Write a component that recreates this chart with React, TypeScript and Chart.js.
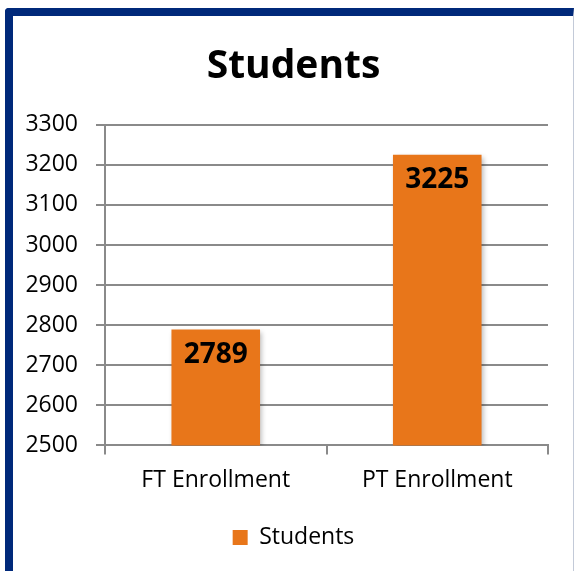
import React, { useEffect, useRef } from "react";
import { Chart, registerables } from "chart.js";

Chart.register(...registerables);

const categories = ["FT Enrollment", "PT Enrollment"];
const studentValues = [2789, 3225];
const seriesName = "Students";
const chartTitle = "Students";
const yMin = 2500;
const yMax = 3300;
const yStep = 100;

const FONT = "'Open Sans', 'DejaVu Sans', sans-serif";
const BAR_COLOR = "#E8761A";
const GRID_COLOR = "#8A8A8A";

const barShadow = {
  id: "barShadow",
  beforeDatasetsDraw(chart: any) {
    const ctx = chart.ctx;
    ctx.save();
    ctx.shadowColor = "rgba(0,0,0,0.28)";
    ctx.shadowBlur = 5;
    ctx.shadowOffsetX = 2;
    ctx.shadowOffsetY = 2;
  },
  afterDatasetsDraw(chart: any) {
    chart.ctx.restore();
  },
};

const valueLabels = {
  id: "valueLabels",
  afterDatasetsDraw(chart: any) {
    const ctx = chart.ctx;
    ctx.save();
    ctx.font = `bold 28px ${FONT}`;
    ctx.fillStyle = "#000";
    ctx.textAlign = "center";
    ctx.textBaseline = "middle";
    chart.data.datasets.forEach((ds: any, di: number) => {
      const meta = chart.getDatasetMeta(di);
      meta.data.forEach((bar: any, i: number) => {
        ctx.fillText(String(ds.data[i]), bar.x, bar.y + 25);
      });
    });
    ctx.restore();
  },
};

export default function App() {
  const ref = useRef<HTMLCanvasElement | null>(null);
  useEffect(() => {
    if (!ref.current) return;
    const chart = new Chart(ref.current, {
      type: "bar",
      data: {
        labels: categories,
        datasets: [
          {
            label: seriesName,
            data: studentValues,
            backgroundColor: BAR_COLOR,
            borderWidth: 0,
            barPercentage: 0.4,
            categoryPercentage: 1,
          },
        ],
      },
      options: {
        animation: false,
        responsive: false,
        maintainAspectRatio: false,
        layout: { padding: { left: 13, right: 0, top: 0, bottom: 12 } },
        plugins: {
          title: {
            display: true,
            text: chartTitle,
            color: "#000",
            font: { family: FONT, size: 39, weight: "bold" },
            padding: { top: 43, bottom: 35 },
          },
          legend: {
            display: true,
            position: "bottom",
            labels: {
              color: "#000",
              font: { family: FONT, size: 23 },
              boxWidth: 15,
              boxHeight: 15,
              padding: 20,
            },
          },
          tooltip: { enabled: false },
        },
        scales: {
          x: {
            grid: {
              display: true,
              drawOnChartArea: false,
              drawTicks: true,
              tickLength: 9,
              color: GRID_COLOR,
              lineWidth: 2,
            },
            border: { display: true, color: GRID_COLOR, width: 2 },
            ticks: {
              color: "#000",
              font: { family: FONT, size: 23 },
              padding: 12,
            },
          },
          y: {
            min: yMin,
            max: yMax,
            afterFit(scale: any) {
              scale.width = 92;
            },
            ticks: {
              stepSize: yStep,
              color: "#000",
              font: { family: FONT, size: 23 },
              padding: 18,
              callback: (v: any) => String(v),
            },
            grid: {
              color: GRID_COLOR,
              lineWidth: 2,
              tickLength: 9,
            },
            border: { display: true, color: GRID_COLOR, width: 2 },
          },
          yRight: {
            type: "linear",
            position: "right",
            min: yMin,
            max: yMax,
            ticks: { display: false },
            grid: { display: false },
            border: { display: false },
            afterFit(scale: any) {
              scale.width = 26;
            },
          },
        },
      },
      plugins: [barShadow, valueLabels],
    });
    return () => chart.destroy();
  }, []);

  return (
    <div
      style={{
        position: "absolute",
        left: 0,
        top: 0,
        width: 574,
        height: 571,
        background: "#fff",
        overflow: "hidden",
      }}
    >
      <canvas
        ref={ref}
        width={574}
        height={571}
        style={{ position: "absolute", left: 0, top: 0, width: 574, height: 571 }}
      />
      <div
        style={{
          position: "absolute",
          left: 5,
          top: 8,
          width: 560,
          height: 580,
          borderLeft: "8px solid #00297A",
          borderTop: "8px solid #00297A",
          borderRight: "1px solid #C3CAD8",
          borderTopLeftRadius: 4,
          pointerEvents: "none",
        }}
      />
    </div>
  );
}
